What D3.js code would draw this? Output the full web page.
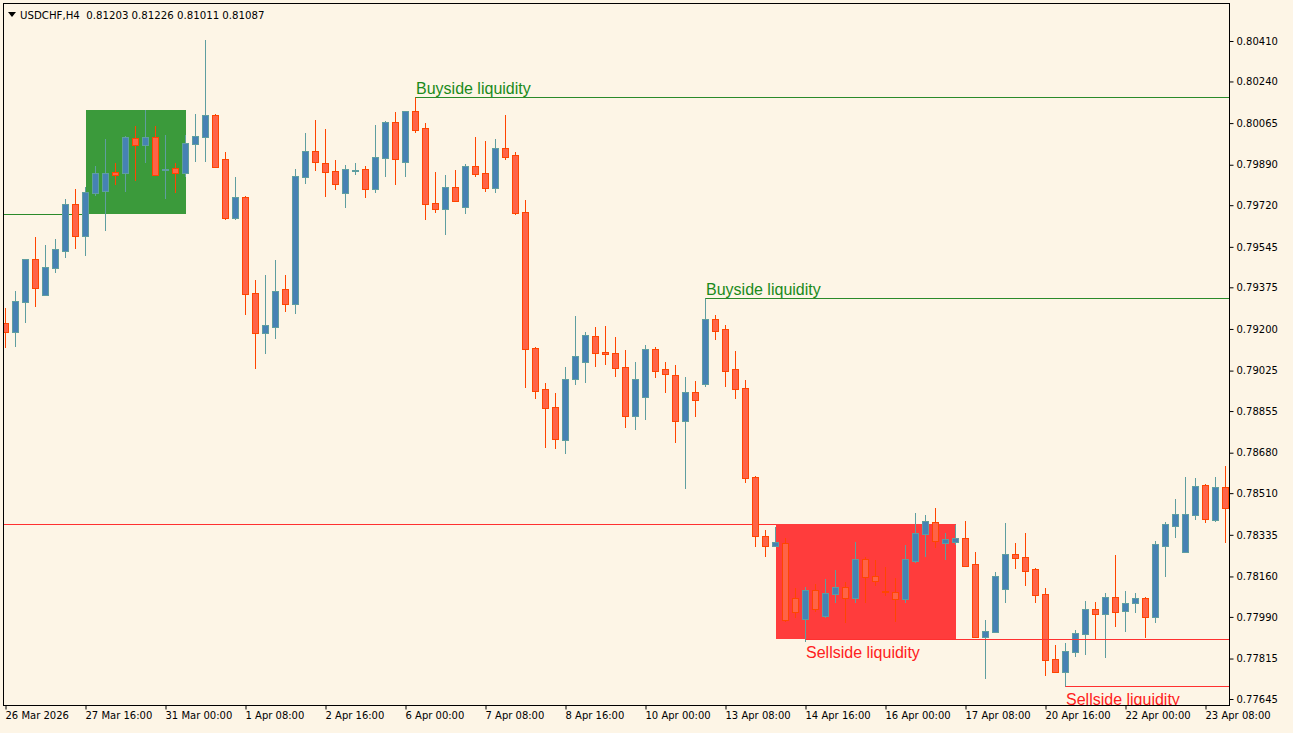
<!DOCTYPE html>
<html>
<head>
<meta charset="utf-8">
<script src="https://cdn.jsdelivr.net/npm/d3@7/dist/d3.min.js"></script>
<style>
  body { margin: 0; background: #fdf5e6; }
  svg { display: block; }
  .axis text { font-family: "DejaVu Sans", sans-serif; font-size: 10px; fill: #000; }
</style>
</head>
<body>
<svg id="chart" width="1293" height="733"></svg>
<script>
// USDCHF H4
var symbolTitle = "USDCHF,H4  0.81203 0.81226 0.81011 0.81087";

var opens = [0.79225,0.79188,0.79314,0.79494,0.79343,0.79456,0.79528,0.79725,0.79591,0.79771,
  0.79780,0.79860,0.79855,0.80002,0.79973,0.80007,0.79870,0.79876,0.79855,0.79977,
  0.80007,0.80099,0.79914,0.79666,0.79755,0.79351,0.79183,0.79209,0.79368,0.79305,
  0.79839,0.79948,0.79897,0.79864,0.79771,0.79866,0.79872,0.79788,0.79918,0.80070,
  0.79902,0.80116,0.80044,0.79729,0.79704,0.79797,0.79713,0.79885,0.79855,0.79792,
  0.79960,0.79931,0.79692,0.79120,0.78948,0.78873,0.78734,0.78990,0.79062,0.79171,
  0.79104,0.79099,0.79041,0.78835,0.78915,0.79116,0.79032,0.79007,0.78814,0.78936,
  0.78969,0.79242,0.79200,0.79032,0.78952,0.78579,0.78331,0.78289,0.78301,0.78070,
  0.77982,0.78104,0.77995,0.78087,0.78117,0.78070,0.78234,0.78163,0.78100,0.78096,
  0.78066,0.78226,0.78339,0.78390,0.78301,0.78306,0.78322,0.78213,0.77907,0.77928,
  0.78108,0.78255,0.78243,0.78192,0.78087,0.77814,0.77760,0.77844,0.77919,0.78024,
  0.78003,0.78075,0.78016,0.78049,0.78070,0.77991,0.78289,0.78373,0.78264,0.78419,
  0.78545,0.78398,0.78537];

var highs = [0.79288,0.79360,0.79494,0.79587,0.79553,0.79578,0.79746,0.79788,0.79797,0.79885,
  0.79998,0.79897,0.80011,0.80053,0.80120,0.80053,0.80015,0.79897,0.80015,0.80103,
  0.80414,0.80103,0.79944,0.79839,0.79759,0.79406,0.79427,0.79490,0.79427,0.79872,
  0.80023,0.80078,0.80040,0.79910,0.79889,0.79897,0.79885,0.80057,0.80074,0.80112,
  0.80116,0.80175,0.80065,0.79860,0.79847,0.79868,0.79893,0.80007,0.79990,0.79998,
  0.80099,0.79944,0.79742,0.79125,0.78973,0.78931,0.79041,0.79255,0.79188,0.79209,
  0.79213,0.79167,0.79112,0.79062,0.79133,0.79125,0.79062,0.79049,0.78999,0.78982,
  0.79330,0.79259,0.79217,0.79108,0.78986,0.78583,0.78356,0.78369,0.78322,0.78112,
  0.78117,0.78129,0.78150,0.78188,0.78138,0.78306,0.78243,0.78230,0.78201,0.78154,
  0.78293,0.78427,0.78419,0.78448,0.78343,0.78377,0.78394,0.78264,0.77978,0.78180,
  0.78385,0.78301,0.78343,0.78196,0.78112,0.77873,0.77881,0.77936,0.78058,0.78054,
  0.78091,0.78251,0.78100,0.78091,0.78075,0.78310,0.78390,0.78486,0.78579,0.78574,
  0.78549,0.78579,0.78625];

var lows = [0.79120,0.79125,0.79225,0.79293,0.79339,0.79435,0.79498,0.79536,0.79507,0.79759,
  0.79612,0.79805,0.79776,0.79822,0.79897,0.79843,0.79746,0.79771,0.79839,0.79902,
  0.79902,0.79876,0.79658,0.79658,0.79259,0.79032,0.79095,0.79158,0.79272,0.79263,
  0.79809,0.79864,0.79755,0.79784,0.79708,0.79847,0.79750,0.79771,0.79839,0.79805,
  0.79839,0.80023,0.79658,0.79687,0.79595,0.79734,0.79683,0.79839,0.79776,0.79771,
  0.79910,0.79679,0.78952,0.78906,0.78700,0.78696,0.78675,0.78965,0.78973,0.79041,
  0.79049,0.78999,0.78784,0.78776,0.78818,0.78994,0.78931,0.78721,0.78528,0.78831,
  0.78957,0.79154,0.78957,0.78906,0.78553,0.78285,0.78243,0.78285,0.77970,0.77986,
  0.77886,0.78012,0.77986,0.78049,0.77965,0.78049,0.78049,0.78121,0.78079,0.77970,
  0.78049,0.78217,0.78243,0.78280,0.78230,0.78293,0.78201,0.77902,0.77730,0.77924,
  0.78049,0.78192,0.78121,0.78049,0.77743,0.77755,0.77697,0.77823,0.77831,0.77898,
  0.77818,0.77949,0.77928,0.78007,0.77902,0.77965,0.78159,0.78322,0.78259,0.78398,
  0.78385,0.78390,0.78301];

var closes = [0.79188,0.79318,0.79494,0.79372,0.79461,0.79536,0.79725,0.79591,0.79776,0.79855,
  0.79855,0.79847,0.80007,0.79973,0.80007,0.79847,0.79872,0.79855,0.79981,0.80011,
  0.80099,0.79881,0.79666,0.79755,0.79347,0.79183,0.79217,0.79360,0.79305,0.79843,
  0.79948,0.79902,0.79860,0.79809,0.79872,0.79868,0.79788,0.79923,0.80070,0.79914,
  0.80116,0.80036,0.79725,0.79704,0.79797,0.79738,0.79885,0.79851,0.79792,0.79960,
  0.79923,0.79687,0.79116,0.78940,0.78868,0.78738,0.78990,0.79087,0.79175,0.79099,
  0.79095,0.79036,0.78835,0.78990,0.79116,0.79024,0.79011,0.78814,0.78936,0.78902,
  0.79242,0.79192,0.79024,0.78948,0.78574,0.78331,0.78289,0.78306,0.77978,0.78012,
  0.78104,0.78024,0.78091,0.78117,0.78070,0.78234,0.78159,0.78142,0.78096,0.78066,
  0.78234,0.78343,0.78394,0.78310,0.78318,0.78322,0.78205,0.77907,0.77932,0.78163,
  0.78255,0.78238,0.78184,0.78083,0.77810,0.77760,0.77848,0.77924,0.78024,0.78003,
  0.78075,0.78012,0.78049,0.78070,0.77991,0.78297,0.78381,0.78423,0.78423,0.78541,
  0.78402,0.78537,0.78448];

// Etiquetas del eje de tiempo (cada 8 velas)
var timeLabels = ["26 Mar 2026","27 Mar 16:00","31 Mar 00:00","1 Apr 08:00","2 Apr 16:00",
  "6 Apr 00:00","7 Apr 08:00","8 Apr 16:00","10 Apr 00:00","13 Apr 08:00","14 Apr 16:00",
  "16 Apr 00:00","17 Apr 08:00","20 Apr 16:00","22 Apr 00:00","23 Apr 08:00"];
var timeLabelBars = [0,8,16,24,32,40,48,56,64,72,80,88,96,104,112,120];

// Etiquetas del eje de precios
var priceTicks = ["0.80410","0.80240","0.80065","0.79890","0.79720","0.79545","0.79375","0.79200",
  "0.79025","0.78855","0.78680","0.78510","0.78335","0.78160","0.77990","0.77815","0.77645"];

// Zonas (order blocks): vela inicial, vela final, precio alto, precio bajo
var zoneFrom   = [8, 77];
var zoneTo     = [18, 95];
var zoneTop    = [0.80120, 0.78381];
var zoneBottom = [0.79683, 0.77898];
var zoneKind   = ["bull", "bear"];

// Niveles de liquidez
var levelText  = ["Buyside liquidity", "Buyside liquidity", "Sellside liquidity", "Sellside liquidity"];
var levelBar   = [41, 70, 80, 106];
var levelPrice = [0.80175, 0.79330, 0.77898, 0.77701];
var levelKind  = ["buy", "buy", "sell", "sell"];

var svg = d3.select("#chart");

var plotLeft = 3, plotTop = 3, plotRight = 1229, plotBottom = 705;

var x = d3.scaleLinear()
    .domain([0, opens.length - 1])
    .range([5.5, 1225.5]);

var y = d3.scaleLinear()
    .domain([0.77645, 0.80410])
    .range([699, 41]);

var colors = {
  bullFill: "#4682b4", bullLine: "#5f9ea0",
  bearFill: "#ff6347", bearLine: "#ff4500",
  greenZone: "#3b9a3b", redZone: "#ff3c3c",
  greenLine: "#2a8a2a", redLine: "#ff3030"
};

svg.append("defs").append("clipPath").attr("id", "plotClip")
  .append("rect")
    .attr("x", plotLeft + 1).attr("y", plotTop + 1)
    .attr("width", plotRight - plotLeft - 1)
    .attr("height", plotBottom - plotTop - 1);

var plot = svg.append("g").attr("clip-path", "url(#plotClip)");

// Zonas (dibujadas al fondo)
zoneFrom.forEach(function(f, k) {
  plot.append("rect")
    .attr("x", Math.round(x(f)))
    .attr("y", Math.round(y(zoneTop[k])))
    .attr("width", Math.round(x(zoneTo[k]) - x(f)))
    .attr("height", Math.round(y(zoneBottom[k]) - y(zoneTop[k])))
    .attr("fill", zoneKind[k] === "bull" ? colors.greenZone : colors.redZone);
  // linea hacia la izquierda
  var edge = zoneKind[k] === "bull" ? zoneBottom[k] : zoneTop[k];
  plot.append("line")
    .attr("x1", plotLeft).attr("x2", Math.round(x(f)))
    .attr("y1", Math.round(y(edge)) + 0.5)
    .attr("y2", Math.round(y(edge)) + 0.5)
    .attr("stroke", zoneKind[k] === "bull" ? colors.greenLine : colors.redLine)
    .attr("stroke-width", 1);
});

// Velas
var idx = d3.range(opens.length);
var candle = plot.selectAll("g.candle")
  .data(idx)
  .enter().append("g")
    .attr("class", "candle");

candle.append("line")
  .attr("x1", function(i) { return x(i); })
  .attr("x2", function(i) { return x(i); })
  .attr("y1", function(i) { return Math.round(y(highs[i])); })
  .attr("y2", function(i) { return Math.round(y(lows[i])); })
  .attr("stroke", function(i) { return closes[i] >= opens[i] ? colors.bullLine : colors.bearLine; })
  .attr("stroke-width", 1);

candle.append("rect")
  .attr("x", function(i) { return x(i) - 3; })
  .attr("y", function(i) { return Math.round(y(Math.max(opens[i], closes[i]))) + 0.5; })
  .attr("width", 6)
  .attr("height", function(i) {
    return Math.max(1, Math.round(Math.abs(y(opens[i]) - y(closes[i]))));
  })
  .attr("fill", function(i) { return closes[i] >= opens[i] ? colors.bullFill : colors.bearFill; })
  .attr("stroke", function(i) { return closes[i] >= opens[i] ? colors.bullLine : colors.bearLine; })
  .attr("stroke-width", 1);

// Niveles de liquidez
levelBar.forEach(function(b, k) {
  var ly = Math.round(y(levelPrice[k])) + 0.5;
  var col = levelKind[k] === "buy" ? colors.greenLine : colors.redLine;
  plot.append("line")
    .attr("x1", x(b)).attr("x2", plotRight)
    .attr("y1", ly).attr("y2", ly)
    .attr("stroke", col).attr("stroke-width", 1);
  plot.append("text")
    .attr("x", x(b) + 0.5)
    .attr("y", levelKind[k] === "buy" ? ly - 3.5 : ly + 18)
    .attr("fill", levelKind[k] === "buy" ? "#1a8a1a" : "#ff2020")
    .style("font-family", "'Liberation Sans', Arial, sans-serif")
    .style("font-size", "16px")
    .text(levelText[k]);
});

// Marco
svg.append("rect")
  .attr("x", plotLeft + 0.5).attr("y", plotTop + 0.5)
  .attr("width", plotRight - plotLeft).attr("height", plotBottom - plotTop)
  .attr("fill", "none").attr("stroke", "#000").attr("stroke-width", 1);

// Eje de precios (derecha)
var yAxis = d3.axisRight(y)
  .tickValues(priceTicks.map(Number))
  .tickFormat(function(d, i) { return priceTicks[i]; })
  .tickSize(4)
  .tickPadding(3);

svg.append("g")
  .attr("class", "axis")
  .attr("transform", "translate(" + (plotRight + 0.5) + ",0)")
  .call(yAxis)
  .call(function(g) { g.select(".domain").remove(); });

// Eje de tiempo (abajo)
var xAxis = d3.axisBottom(x)
  .tickValues(timeLabelBars)
  .tickFormat(function(d, i) { return timeLabels[i]; })
  .tickSize(4)
  .tickPadding(2);

var gx = svg.append("g")
  .attr("class", "axis")
  .attr("transform", "translate(0," + (plotBottom + 0.5) + ")")
  .call(xAxis)
  .call(function(g) { g.select(".domain").remove(); });
gx.selectAll("text").attr("text-anchor", "start").attr("dx", "-0.5");

// Titulo
svg.append("path")
  .attr("d", "M8,12 L16,12 L12,17 Z")
  .attr("fill", "#000");
svg.append("text")
  .attr("x", 20).attr("y", 19)
  .style("font-family", "'DejaVu Sans', sans-serif")
  .style("font-size", "10.2px")
  .attr("xml:space", "preserve")
  .text(symbolTitle);
</script>
</body>
</html>
